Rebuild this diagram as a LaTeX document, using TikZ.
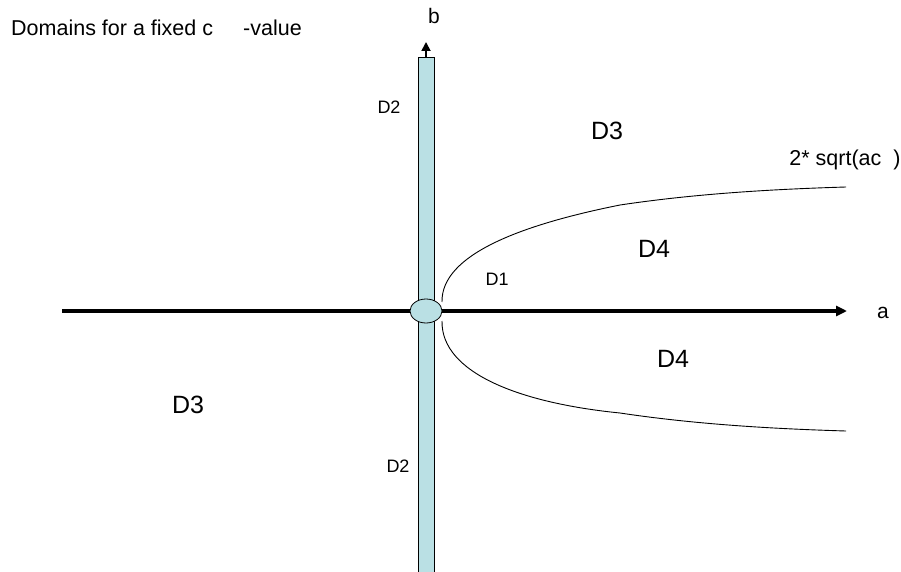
\documentclass[tikz,border=0pt]{standalone}
\usepackage{fontspec}
\setmainfont{Liberation Sans}
\usetikzlibrary{arrows.meta,shapes.geometric}
\definecolor{barblue}{HTML}{BAE0E4}
\tikzset{
  lbl/.style={font=\fontsize{18}{18}\selectfont, inner sep=0pt},
  ttl/.style={font=\fontsize{21.5}{21.5}\selectfont, inner sep=0pt},
  axlbl/.style={font=\fontsize{21}{21}\selectfont, inner sep=0pt},
  biglbl/.style={font=\fontsize{25}{25}\selectfont, inner sep=0pt},
  axis/.style={line width=3.6pt, -{Triangle[length=11pt,width=10pt]}},
  curve/.style={line width=0.9pt}
}
\begin{document}
\begin{tikzpicture}[x=1pt,y=-1pt]
\useasboundingbox (0,0) rectangle (901,572);
% horizontal axis
\coordinate (aL) at (62,311);
\coordinate (aR) at (847,311);
\draw[axis] (aL) -- (aR);
% vertical bar
\coordinate (vt) at (426,42);
\draw[line width=1.8pt,-{Triangle[length=9pt,width=9pt]}] (426,58) -- (vt);
\node[draw=black, line width=0.8pt, fill=barblue, minimum width=16pt, minimum height=515pt, inner sep=0pt, anchor=north] (bar) at (426,57) {};
% ellipse at origin
\node[ellipse, draw=black, line width=0.8pt, fill=barblue, minimum width=32pt, minimum height=24pt, inner sep=0pt] (o) at (426,311) {};
% curves
\coordinate (c1s) at (442,302);
\coordinate (c1e) at (846,187);
\coordinate (c2s) at (442,321);
\coordinate (c2e) at (846,431);
\draw[curve] (c1s) .. controls (441,255) and (520,225) .. (620,205) .. controls (700,193) and (780,189) .. (c1e);
\draw[curve] (c2s) .. controls (441,373) and (520,403) .. (620,413) .. controls (700,425) and (780,429) .. (c2e);
% labels
\node[ttl, anchor=west] (title) at (11,28) {Domains for a fixed c};
\node[ttl, anchor=west] (title2) at (243,28) {-value};
\node[axlbl] (b) at (434,16) {b};
\node[axlbl] (a) at (883,313) {a};
\node[lbl] (d2a) at (389,107) {D2};
\node[lbl] (d2b) at (398,466) {D2};
\node[lbl] (d1) at (497,279) {D1};
\node[biglbl] (d3a) at (607,131) {D3};
\node[biglbl] (d3b) at (188,405) {D3};
\node[biglbl] (d4a) at (654,249) {D4};
\node[biglbl] (d4b) at (673,359) {D4};
\node[ttl] (sq) at (845,160) {2* sqrt(ac\ \ )};
\end{tikzpicture}
\end{document}
